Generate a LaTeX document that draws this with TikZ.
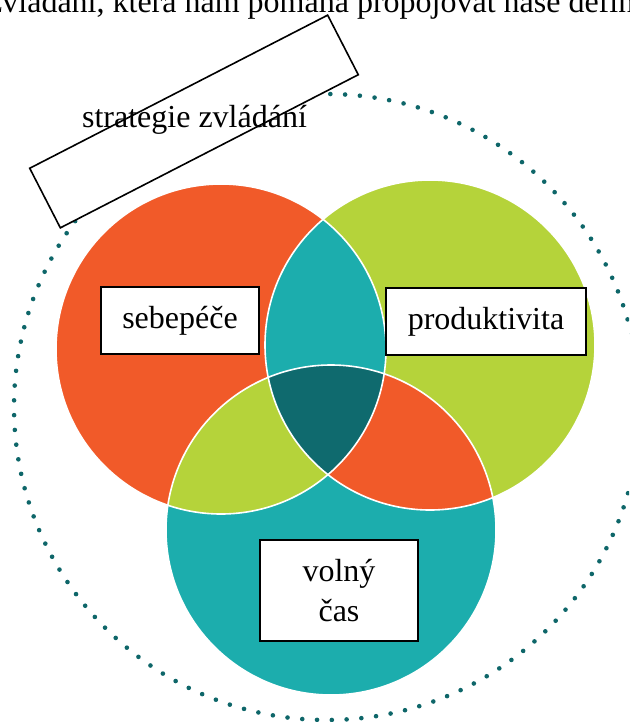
\documentclass[tikz,border=0pt]{standalone}
\usepackage{fontspec}
\setmainfont{Liberation Serif}
\definecolor{cRed}{HTML}{F15A29}
\definecolor{cGreen}{HTML}{B5D33A}
\definecolor{cTeal}{HTML}{1CADAD}
\definecolor{cDark}{HTML}{0F6A6E}
\definecolor{cDots}{HTML}{0E6669}
\tikzset{
  labelbox/.style={draw=black, fill=white, line width=1.8pt, inner sep=0pt,
    font=\fontsize{32}{40}\selectfont, align=center},
  sep/.style={white, line width=1.6pt},
  dotring/.style={cDots, line width=4.6pt, line cap=round, dash pattern=on 0pt off 14.8pt},
}
\begin{document}
\begin{tikzpicture}[x=1pt,y=-1pt]
\useasboundingbox (0,0) rectangle (629,722);
\clip (0,0) rectangle (629,722);
\fill[white] (0,0) rectangle (629,722);
% centres
\coordinate (R) at (221,349);
\coordinate (G) at (430,345);
\coordinate (T) at (331,530);
\coordinate (O) at (327,407);
% dotted ring
\draw[dotring] (O) circle[radius=313pt];
% circles
\fill[cRed] (R) circle[radius=165pt];
\fill[cGreen] (G) circle[radius=165pt];
\fill[cTeal] (T) circle[radius=165pt];
\begin{scope}
  \clip (R) circle[radius=165pt];
  \fill[cTeal] (G) circle[radius=165pt];
  \fill[cGreen] (T) circle[radius=165pt];
  \clip (G) circle[radius=165pt];
  \fill[cDark] (T) circle[radius=165pt];
\end{scope}
\begin{scope}[even odd rule]
  \clip (G) circle[radius=165pt];
  \clip (T) circle[radius=165pt];
  \clip (R) circle[radius=165pt] (-10,-10) rectangle (640,740);
  \fill[cRed] (T) circle[radius=165pt];
\end{scope}
\draw[sep] (R) circle[radius=165pt];
\draw[sep] (G) circle[radius=165pt];
\draw[sep] (T) circle[radius=165pt];
% rotated box
\node[draw=black, fill=white, line width=1.6pt, rotate=27.2,
      minimum width=335pt, minimum height=67pt, inner sep=0pt] (strat) at (194,121.5) {};
\node[anchor=base, inner sep=0pt, font=\fontsize{32}{38}\selectfont] (stratText) at (194.5,128) {strategie zvládání};
% top text (cut off by the picture's edge, as in the reference)
\node[anchor=base west, inner sep=0pt, font=\fontsize{32}{38}\selectfont] (topText) at (-12,13) {zvládání, která nám pomáhá propojovat naše definice};
% labels
\node[labelbox, minimum width=158pt, minimum height=67pt] (self) at (180,320.5) {sebepéče};
\node[labelbox, minimum width=200pt, minimum height=67pt] (prod) at (486,321.5) {produktivita};
\node[labelbox, minimum width=158pt, minimum height=101pt] (free) at (339,590.5) {volný\\čas};
\end{tikzpicture}
\end{document}
